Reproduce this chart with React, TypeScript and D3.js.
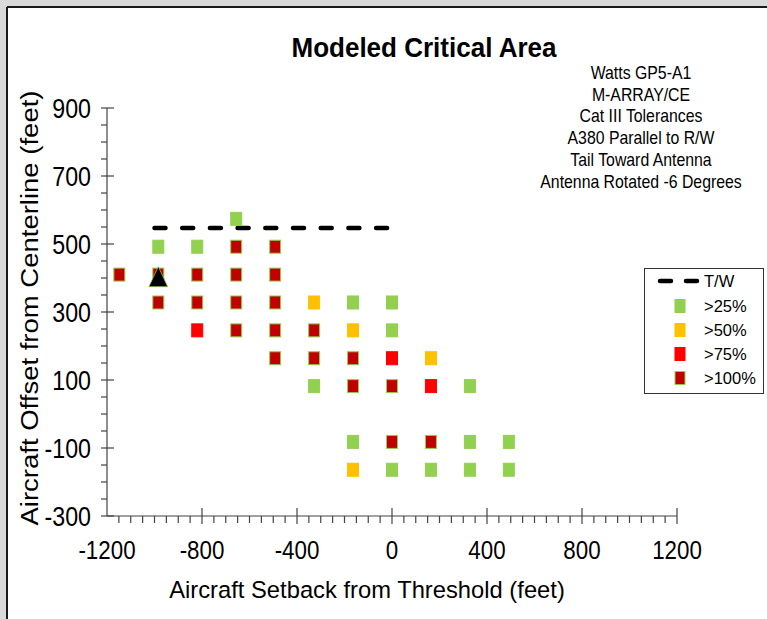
import * as d3 from "d3";

const W = 767;
const H = 619;

// category colours
const GREEN = "#92D050";
const ORANGE = "#FFC000";
const RED = "#FF0000";
const DARKRED = "#C00000";

const xTicks = [-1200, -800, -400, 0, 400, 800, 1200];
const yTicks = [-300, -100, 100, 300, 500, 700, 900];

// [setback, offset] in feet, grouped by critical-area category
const pts25: [number, number][] = [
  [-656, 574], [-984, 492], [-820, 492], [-164, 328], [0, 328], [0, 246],
  [-328, 82], [328, 82], [-164, -82], [328, -82], [492, -82],
  [0, -164], [164, -164], [328, -164], [492, -164],
];
const pts50: [number, number][] = [[-328, 328], [-164, 246], [164, 164], [-164, -164]];
const pts75: [number, number][] = [[-820, 246], [0, 164], [164, 82]];
const pts100: [number, number][] = [
  [-656, 492], [-492, 492],
  [-1148, 410], [-984, 410], [-820, 410], [-656, 410], [-492, 410],
  [-984, 328], [-820, 328], [-656, 328], [-492, 328],
  [-656, 246], [-492, 246], [-328, 246],
  [-492, 164], [-328, 164], [-164, 164],
  [-164, 82], [0, 82], [0, -82], [164, -82],
];

const twX = [-1000, 0];
const twY = 547;
const aircraft: [number, number] = [-984, 394];

const notes = [
  "Watts GP5-A1",
  "M-ARRAY/CE",
  "Cat III Tolerances",
  "A380 Parallel to R/W",
  "Tail Toward Antenna",
  "Antenna Rotated -6 Degrees",
];

const series = [
  { label: ">25%", color: GREEN, stroke: GREEN, data: pts25 },
  { label: ">50%", color: ORANGE, stroke: ORANGE, data: pts50 },
  { label: ">75%", color: RED, stroke: RED, data: pts75 },
  { label: ">100%", color: DARKRED, stroke: GREEN, data: pts100 },
];

const FONT = "'Liberation Sans', Arial, sans-serif";

function CText(props: {
  x: number; y: number; k?: number; rotate?: number; size: number;
  anchor?: string; weight?: number | string; children: string;
}) {
  const { x, y, k = 1, rotate = 0, size, anchor = "middle", weight = 400 } = props;
  return (
    <g transform={`translate(${x},${y}) scale(${k},1) rotate(${rotate})`}>
      <text fontFamily={FONT} fontSize={size} fontWeight={weight} textAnchor={anchor} fill="#000">
        {props.children}
      </text>
    </g>
  );
}

export default function App() {
  const x = d3.scaleLinear().domain([-1200, 1200]).range([107, 677]);
  const y = d3.scaleLinear().domain([-300, 900]).range([516, 108]);

  const xMinor = d3.range(-1200, 1201, 50).filter(v => v % 400 !== 0);
  const yMinor = d3.range(-300, 901, 50).filter(v => !yTicks.includes(v));

  const SW = 11, SH = 13;
  const tri = d3.symbol().type(d3.symbolTriangle).size(230)();

  return (
    <div style={{ position: "absolute", left: 0, top: 0 }}>
      <svg width={W} height={H} style={{ display: "block" }}>
        <rect width={W} height={H} fill="#D9D9D9" />
        <rect x={8} y={8} width={W - 8} height={H - 8} fill="#fff" />
        <line x1={7} x2={7} y1={7} y2={H} stroke="#1a1a1a" strokeWidth={2} />
        <line x1={7} x2={W} y1={7} y2={7} stroke="#1a1a1a" strokeWidth={2} />

        <CText x={424} y={57} size={28} weight={700} k={0.93}>Modeled Critical Area</CText>

        {notes.map((n, i) => (
          <CText key={n} x={641} y={79 + i * 21.7} size={18} k={0.88}>{n}</CText>
        ))}

        {/* axes */}
        <g stroke="#444" strokeWidth={1.2}>
          <line x1={x(-1200)} x2={x(-1200)} y1={y(-300)} y2={y(900)} />
          <line x1={x(-1200)} x2={x(1200)} y1={y(-300)} y2={y(-300)} />
          {yTicks.map(v => (
            <line key={"ym" + v} x1={x(-1200) - 6} x2={x(-1200) + 7} y1={y(v)} y2={y(v)} />
          ))}
          {yMinor.map(v => (
            <line key={"yn" + v} x1={x(-1200) - 6} x2={x(-1200)} y1={y(v)} y2={y(v)} />
          ))}
          {xTicks.filter(v => v !== -1200).map(v => (
            <line key={"xm" + v} x1={x(v)} x2={x(v)} y1={y(-300) - 8} y2={y(-300) + 8} />
          ))}
          {xMinor.map(v => (
            <line key={"xn" + v} x1={x(v)} x2={x(v)} y1={y(-300)} y2={y(-300) + 7} />
          ))}
        </g>

        {yTicks.map(v => (
          <CText key={"yl" + v} x={91} y={y(v) + 9.5} size={27} anchor="end" k={0.86}>{String(v)}</CText>
        ))}
        {xTicks.map(v => (
          <CText key={"xl" + v} x={x(v)} y={y(-300) + 43} size={26} k={0.86}>{String(v)}</CText>
        ))}

        <CText x={367} y={598} size={24.5} k={0.97}>Aircraft Setback from Threshold (feet)</CText>
        <CText x={38} y={308} size={27.5} k={0.85} rotate={-90}>Aircraft Offset from Centerline (feet)</CText>

        {/* T/W line */}
        <line x1={x(twX[0])} x2={x(twX[1])} y1={y(twY)} y2={y(twY)}
          stroke="#000" strokeWidth={4.5} strokeDasharray="11,16.7" strokeLinecap="round" />

        {series.map(s => (
          <g key={s.label}>
            {s.data.map(([a, b], i) => (
              <rect key={i} x={x(a) - SW / 2} y={y(b) - SH / 2} width={SW} height={SH}
                fill={s.color} stroke={s.stroke} strokeWidth={1} />
            ))}
          </g>
        ))}

        <path d={tri} transform={`translate(${x(aircraft[0])},${y(aircraft[1])}) scale(0.82,1)`}
          fill="#000" stroke={GREEN} strokeWidth={0.8} />

        {/* legend */}
        <rect x={644.5} y={268.5} width={119} height={125} fill="#fff" stroke="#333" strokeWidth={1} />
        <line x1={660} x2={700} y1={281} y2={281} stroke="#000" strokeWidth={4.5}
          strokeDasharray="11,15" strokeLinecap="round" />
        <CText x={704} y={287} size={16.5} anchor="start">T/W</CText>
        {series.map((s, i) => (
          <g key={"lg" + s.label}>
            <rect x={680 - 5} y={306 + i * 24 - 6.5} width={10} height={13}
              fill={s.color} stroke={s.stroke} strokeWidth={1} />
            <CText x={704} y={312 + i * 24} size={16.5} anchor="start">{s.label}</CText>
          </g>
        ))}
      </svg>
    </div>
  );
}
